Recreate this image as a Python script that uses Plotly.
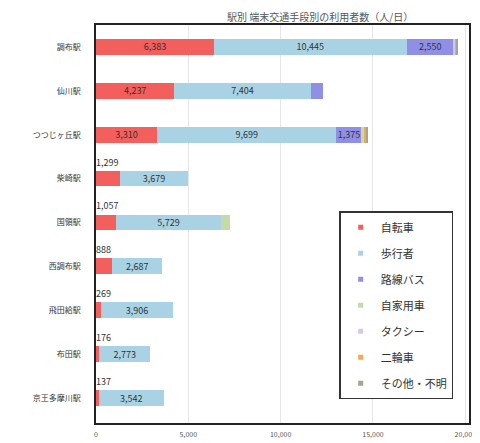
import plotly.graph_objects as go

stations = ["調布駅", "仙川駅", "つつじヶ丘駅", "柴崎駅", "国領駅", "西調布駅", "飛田給駅", "布田駅", "京王多摩川駅"]
bike = [6383, 4237, 3310, 1299, 1057, 888, 269, 176, 137]
walk = [10445, 7404, 9699, 3679, 5729, 2687, 3906, 2773, 3542]
bus = [2550, 650, 1375, 0, 0, 0, 0, 0, 0]
car = [60, 0, 80, 0, 450, 0, 0, 0, 0]
taxi = [30, 0, 40, 0, 0, 0, 0, 0, 0]
moto = [80, 0, 120, 0, 0, 0, 0, 0, 0]
other = [40, 0, 60, 0, 0, 0, 0, 0, 0]

series = [
    ("自転車", bike, "#f25f5c", 1500),
    ("歩行者", walk, "#a9d3e4", 1000),
    ("路線バス", bus, "#8f8fe6", 1000),
    ("自家用車", car, "#c2dba8", 10**9),
    ("タクシー", taxi, "#d9c7e8", 10**9),
    ("二輪車", moto, "#f5a94a", 10**9),
    ("その他・不明", other, "#9aa79a", 10**9),
]

FONT = "Noto Sans CJK JP"
fig = go.Figure()
for i, (name, vals, col, thr) in enumerate(series):
    txt = [f"{v:,}" if v >= thr else "" for v in vals]
    fig.add_trace(go.Bar(
        y=stations, x=vals, name=name, orientation="h",
        marker=dict(color=col, line=dict(width=0)),
        text=txt, textposition="inside", insidetextanchor="middle",
        constraintext="none",
        textfont=dict(size=9, color="#333333", family=FONT),
        showlegend=False, cliponaxis=False,
    ))
for i, (name, vals, col, thr) in enumerate(series):
    fig.add_trace(go.Scatter(
        x=[None], y=[None], mode="markers", name=name,
        marker=dict(symbol="square", size=5, color=col),
        legendgroup=str(i), showlegend=True,
    ))

# outside labels for small bike values
for s, v in zip(stations, bike):
    if v < 1500:
        fig.add_annotation(x=0, y=s, xref="x", yref="y", text=f"{v:,}",
                           showarrow=False, xanchor="left", yanchor="bottom",
                           yshift=8, xshift=-2,
                           font=dict(size=9, color="#333333", family=FONT))

fig.add_annotation(x=0.6, y=1.0, xref="paper", yref="paper", yshift=9,
                   yanchor="middle",
                   text="駅別 端末交通手段別の利用者数（人/日）", showarrow=False,
                   font=dict(size=10, color="#555555", family=FONT))

fig.update_layout(
    width=480, height=443,
    margin=dict(l=88, r=13, t=17, b=18),
    barmode="stack", bargap=0.64,
    paper_bgcolor="white", plot_bgcolor="white",
    showlegend=True,
    legend=dict(x=0.652, y=0.532, xanchor="left", yanchor="top",
                bordercolor="#333333", borderwidth=1.5, bgcolor="white",
                font=dict(size=11, color="#333333", family=FONT),
                tracegroupgap=7, itemwidth=30,
                traceorder="grouped"),
    font=dict(family=FONT),
)
fig.update_xaxes(range=[0, 20200], tickvals=[0, 5000, 10000, 15000, 20000],
                 ticktext=["0", "5,000", "10,000", "15,000", "20,000"],
                 tickfont=dict(size=7, color="#555555"), showgrid=True,
                 gridcolor="#e6e6e6", gridwidth=1, zeroline=False,
                 showline=True, linecolor="#222222", linewidth=1.5, mirror=True,
                 ticks="", ticklen=0, ticklabelstandoff=4)
fig.update_yaxes(autorange="reversed", tickfont=dict(size=8, color="#333333"),
                 showline=True, linecolor="#222222", linewidth=1.5, mirror=True,
                 ticks="", ticklabelstandoff=12)

fig.write_html("out.html")
